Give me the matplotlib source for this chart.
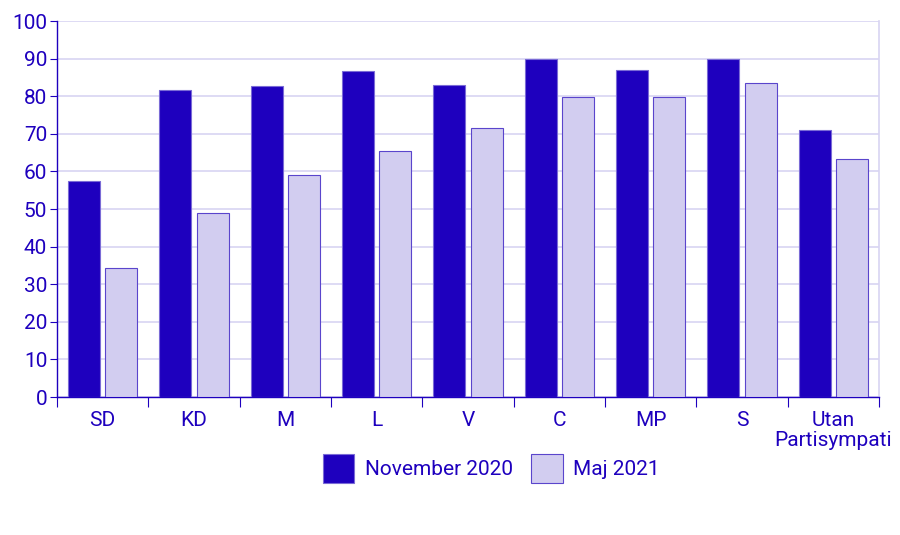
import matplotlib
matplotlib.use("Agg")
import matplotlib.pyplot as plt
import numpy as np

categories = ["SD", "KD", "M", "L", "V", "C", "MP", "S", "Utan\nPartisympati"]
nov_2020 = [57.5, 81.7, 82.6, 86.6, 83.0, 90.0, 86.9, 90.0, 70.9]
maj_2021 = [34.4, 48.9, 59.1, 65.4, 71.5, 79.8, 79.9, 83.4, 63.3]
series_labels = ["November 2020", "Maj 2021"]
y_ticks = [0, 10, 20, 30, 40, 50, 60, 70, 80, 90, 100]

DARK = "#1E00BE"
LIGHT = "#D2CDF0"
GRID = "#D8D4F2"

plt.rcParams['font.family'] = ['Roboto', 'DejaVu Sans']

fig = plt.figure(figsize=(9, 5.35), dpi=100)
ax = fig.add_axes([0.0633, 0.2579, 0.9134, 0.7028])

x = np.arange(len(categories))
w = 0.35
ax.bar(x - 0.205, nov_2020, w, color=DARK, edgecolor="#7A6BD6", linewidth=0.8,
       label=series_labels[0], zorder=3)
ax.bar(x + 0.205, maj_2021, w, color=LIGHT, edgecolor="#5A45CC", linewidth=0.8,
       label=series_labels[1], zorder=3)

ax.set_xlim(-0.5, len(categories) - 0.5)
ax.set_ylim(0, 100)
ax.set_yticks(y_ticks)
ax.set_yticklabels([str(v) for v in y_ticks], color=DARK, fontsize=15)
ax.yaxis.grid(True, color=GRID, linewidth=1.2, zorder=0)
ax.set_axisbelow(True)

ax.set_xticks(x)
ax.set_xticklabels(categories, color=DARK, fontsize=15, linespacing=1.05)
ax.tick_params(axis='x', length=0, pad=10)
ax.set_xticks(np.arange(len(categories) + 1) - 0.5, minor=True)
ax.tick_params(axis='x', which='minor', length=7, color=DARK, width=0.8)
ax.tick_params(axis='y', length=5, color=DARK, width=0.8, pad=2)

for s in ["left", "bottom"]:
    ax.spines[s].set_color(DARK)
    ax.spines[s].set_linewidth(1.0)
ax.spines["top"].set_visible(False)
ax.spines["right"].set_color(GRID)
ax.spines["right"].set_linewidth(1.2)

leg = fig.legend(loc="center", bbox_to_anchor=(0.546, 0.125), ncol=2, frameon=False,
                 fontsize=15, handlelength=1.5, handleheight=1.75, handletextpad=0.5,
                 columnspacing=0.9, labelcolor=DARK)

fig.savefig("out.png", dpi=100)
